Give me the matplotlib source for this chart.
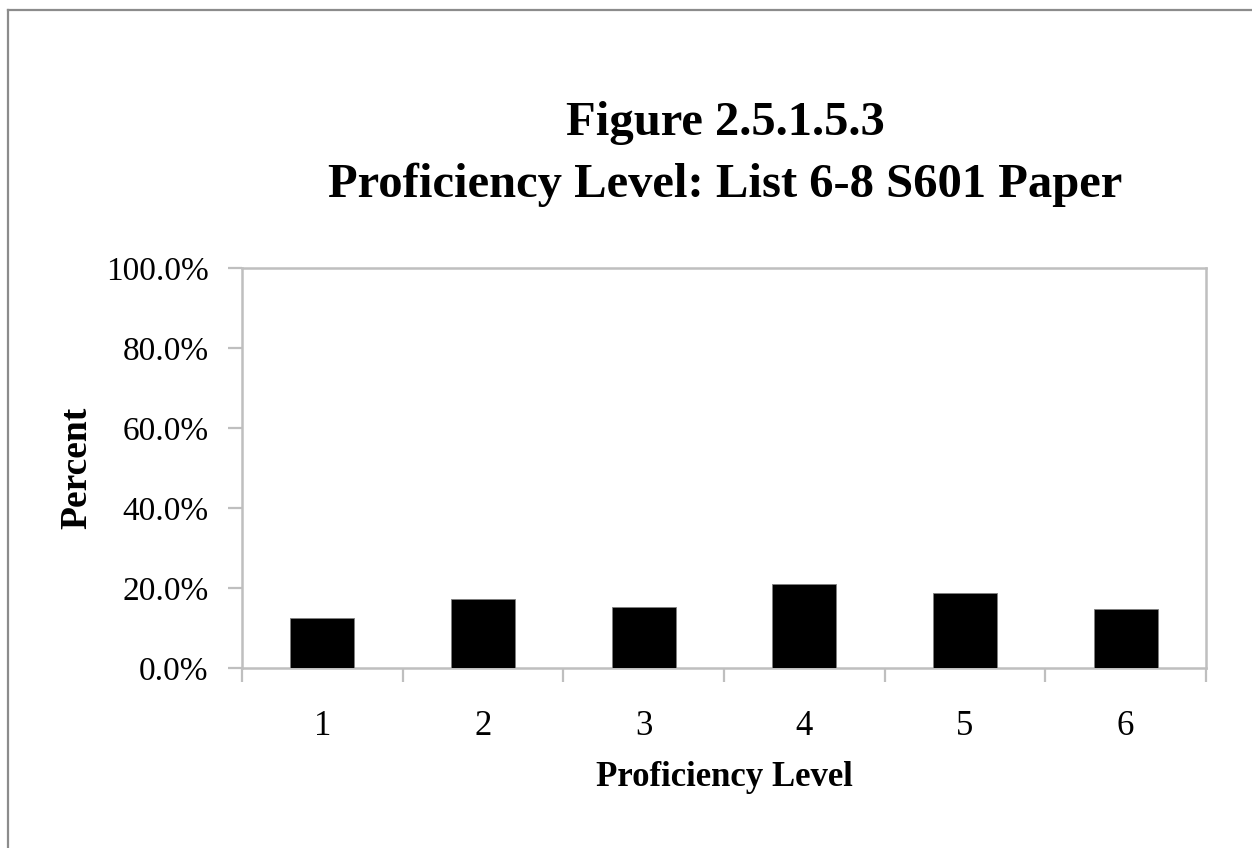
import numpy as np
import matplotlib.pyplot as plt
from matplotlib.lines import Line2D
from matplotlib.ticker import FuncFormatter, MultipleLocator

# proficiency level distribution (percent)
levels = ['1', '2', '3', '4', '5', '6']
percent = [12.4, 17.2, 15.3, 21.1, 18.7, 14.8]

plt.rcParams['font.family'] = ['Liberation Serif', 'DejaVu Serif']
GRID = '#BFBFBF'

fig = plt.figure(figsize=(12.52, 8.48), dpi=100)
ax = fig.add_axes([242 / 1252, 1 - 668 / 848, 964 / 1252, 400 / 848])

x = np.arange(1, len(levels) + 1)
ax.bar(x, percent, width=0.4, color='black', edgecolor='#7f7f7f', linewidth=0.6, zorder=3)

ax.set_xlim(0.5, len(levels) + 0.5)
ax.set_ylim(0, 100)
ax.set_xticks(x)
ax.set_xticklabels(levels)
ax.set_xticks(np.arange(0.5, len(levels) + 1), minor=True)
ax.yaxis.set_major_locator(MultipleLocator(20))
ax.yaxis.set_major_formatter(FuncFormatter(lambda v, p: f'{v:.1f}%'))

ax.tick_params(axis='x', which='major', length=0, pad=30, labelsize=25)
ax.tick_params(axis='x', which='minor', length=10, width=1.6, color=GRID, direction='out')
ax.tick_params(axis='y', length=10, width=1.6, color=GRID, pad=14, labelsize=24)

for s in ax.spines.values():
    s.set_color(GRID)
    s.set_linewidth(1.8)

ax.set_xlabel('Proficiency Level', fontsize=25, fontweight='bold', labelpad=13)
ax.set_ylabel('Percent', fontsize=27, fontweight='bold', labelpad=8)

fig.text(725 / 1252, 1 - 154 / 848, 'Figure 2.5.1.5.3\nProficiency Level: List 6-8 S601 Paper',
         ha='center', va='center', fontsize=35, fontweight='bold', linespacing=1.5)

# outer chart border (left and top only visible)
fig.add_artist(Line2D([8 / 1252, 8 / 1252], [0, 1 - 10 / 848], transform=fig.transFigure,
                      color='#8c8c8c', lw=1.6))
fig.add_artist(Line2D([8 / 1252, 1], [1 - 10 / 848, 1 - 10 / 848], transform=fig.transFigure,
                      color='#8c8c8c', lw=1.6))

fig.savefig('out.png', dpi=100)
